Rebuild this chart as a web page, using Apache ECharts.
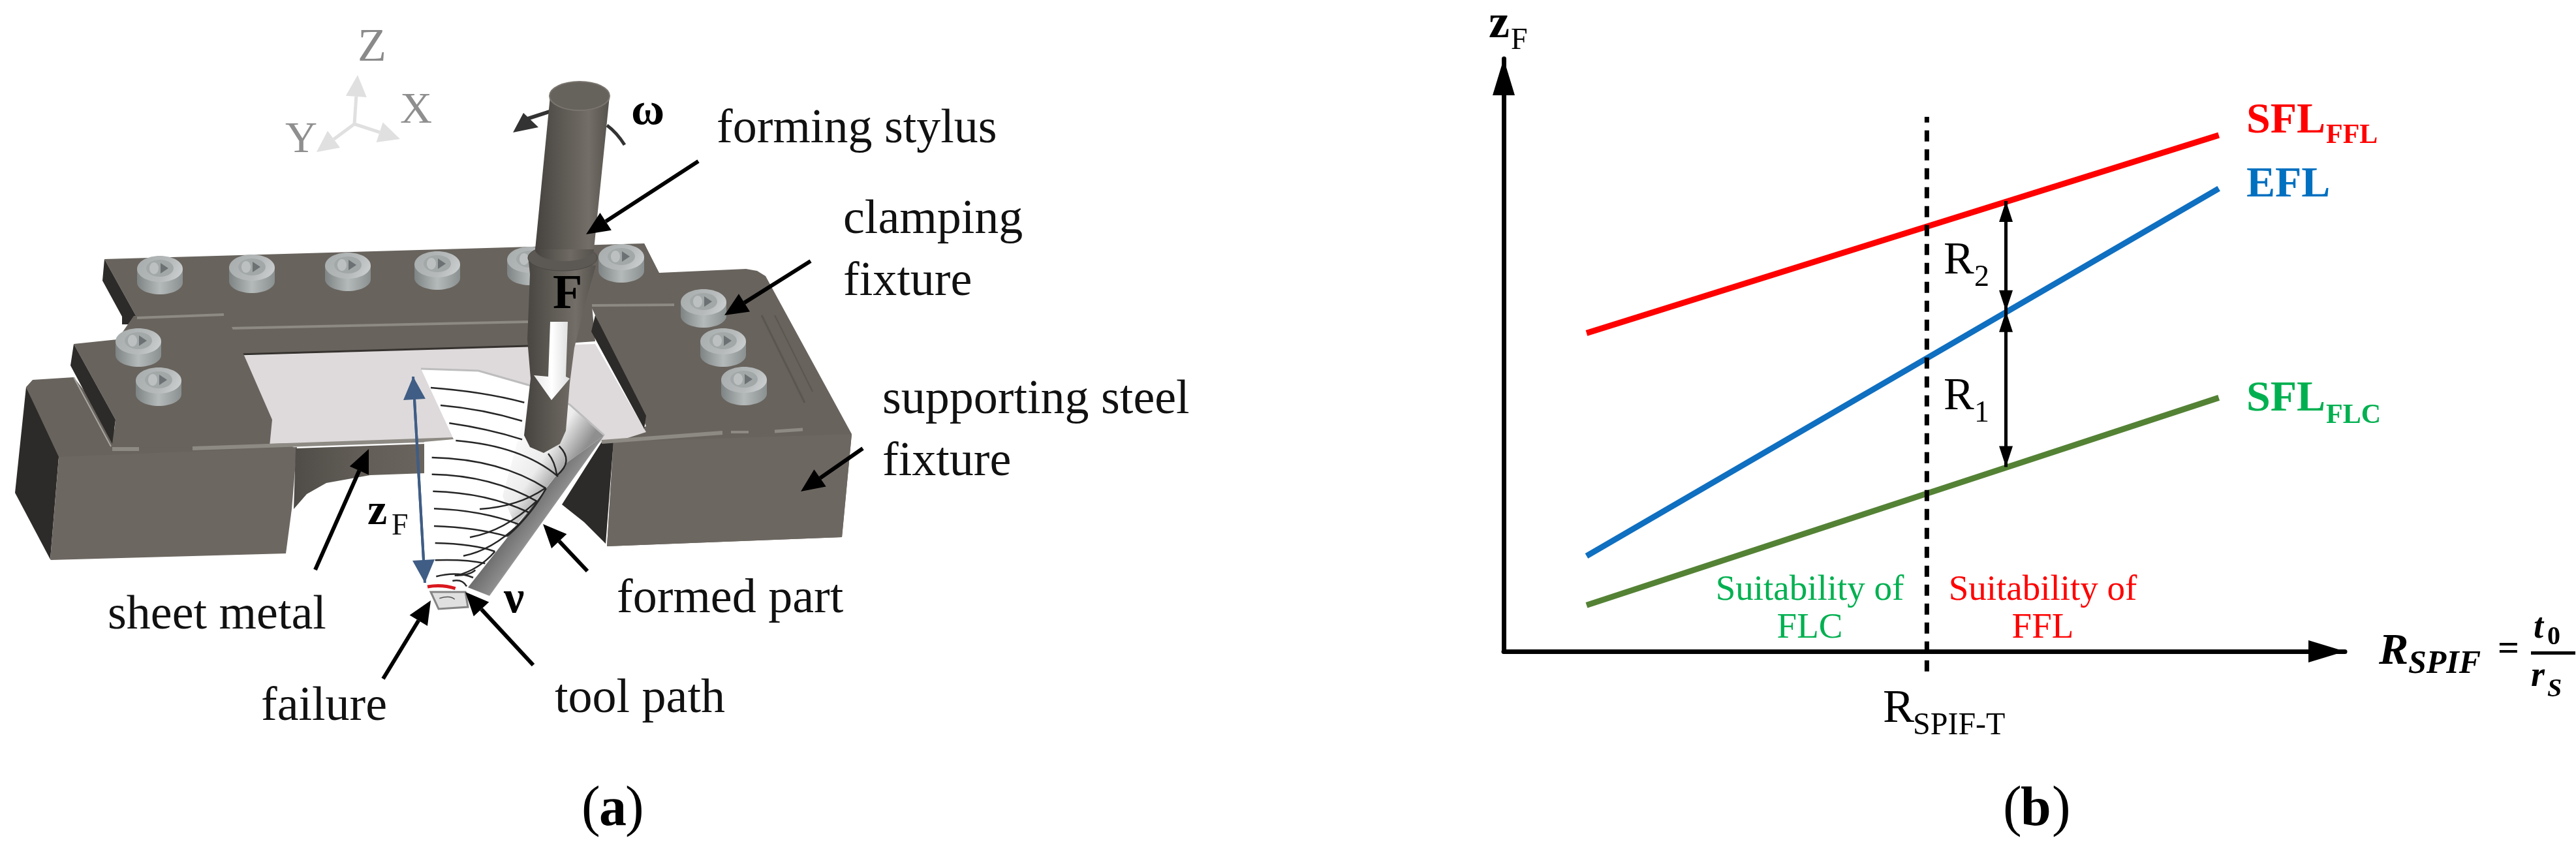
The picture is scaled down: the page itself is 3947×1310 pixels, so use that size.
<!DOCTYPE html>
<html><head><meta charset="utf-8">
<style>html,body{margin:0;padding:0;background:#fff}#c{width:3947px;height:1310px}</style>
<script src="https://cdn.jsdelivr.net/npm/echarts@6/dist/echarts.min.js"></script>
</head><body><div id="c"></div>
<script>
// ---- panel (b) values (axis units 0-100) ----
const lineX = [9.85, 85.0];
const sflFfl = [53.7, 87.1];
const efl = [16.1, 78.1];
const sflFlc = [7.8, 42.8];
const thresholdX = 50.3;
const thresholdY = [-3.4, 90.2];
const gapX = 59.7;
const gapY = [31.1, 57.4, 76.0];

const FONT = 'Liberation Serif';
const g = [];
const poly = (pts, fill, extra) => g.push({type:'polygon', silent:true, shape:{points:pts}, style:Object.assign({fill}, extra||{})});
const line = (pts, stroke, w, extra) => g.push({type:'polyline', silent:true, shape:{points:pts}, style:Object.assign({stroke, lineWidth:w, fill:'none'}, extra||{})});
const ell = (cx, cy, rx, ry, fill, extra) => g.push({type:'ellipse', silent:true, shape:{cx, cy, rx, ry}, style:Object.assign({fill}, extra||{})});
const curve = (x1,y1,cx,cy,x2,y2,stroke,w) => g.push({type:'bezierCurve', silent:true, shape:{x1,y1,cpx1:cx,cpy1:cy,x2,y2}, style:{stroke, lineWidth:w, fill:'none'}});
const tx = (text, x, base, size, opts) => { opts = opts||{}; g.push({type:'text', silent:true, style:{text, x, y:base-0.33*size, fill:opts.fill||'#111', fontFamily:opts.family||FONT, fontSize:size, fontWeight:opts.weight||'normal', fontStyle:opts.style||'normal', textAlign:opts.align||'left', textVerticalAlign:'middle'}}); };
const grad = (x,y,x2,y2,stops,global) => ({type:'linear',x,y,x2,y2,global:!!global,colorStops:stops.map(c=>({offset:c[0],color:c[1]}))});
const arrow = (a,b,c,d,color,w,hl,hw) => {
  const L = Math.hypot(c-a,d-b), ux=(c-a)/L, uy=(d-b)/L, bx=c-ux*hl, by=d-uy*hl;
  g.push({type:'polyline',silent:true,shape:{points:[[a,b],[bx,by]]},style:{stroke:color,lineWidth:w,fill:'none'}});
  g.push({type:'polygon',silent:true,shape:{points:[[c,d],[bx-uy*hw,by+ux*hw],[bx+uy*hw,by-ux*hw]]},style:{fill:color}});
};
const C3 = (x,y) => [400+x/3, 420+y/3];
const c3curve = (a,b,c,d,e,f,w,col) => { const p=C3(a,b), q=C3(c,d), r=C3(e,f); curve(p[0],p[1],q[0],q[1],r[0],r[1],col||'#262626',w); };

// ---- panel (a): illustration ----
const TAUPE='#6d6761', TOP='#68635d', DARK='#2d2b29', SEAM='#8d8983';
// base: left block
poly([[40,593],[50,582],[113,578],[177,660],[420,660],[455,690],[90,704]], TOP);
poly([[40,593],[23,755],[77,857],[90,700]], DARK);
poly([[90,700],[455,685],[447,780],[438,848],[78,858],[77,857]], TAUPE);
poly([[453,687],[652,680],[652,725],[567,728],[500,740],[470,757],[450,780]], grad(0,0,1,0,[[0,'#4f4c47'],[0.5,'#625d57'],[1,'#6a645e']]));
// base: right block
poly([[987,373],[1010,418],[1143,412],[1160,415],[1173,423],[1305,665],[1290,823],[930,837],[940,677],[990,653],[912,483],[905,468]], TOP);
poly([[940,677],[1305,665],[1290,823],[930,837]], TAUPE);
poly([[940,677],[928,833],[895,800],[861,773],[922,677]], DARK);
// sheet metal
poly([[367,545],[912,527],[990,662],[940,678],[922,678],[697,673],[413,680]], '#dedadb');
// back clamp
poly([[160,397],[987,373],[1033,467],[907,468],[912,523],[810,530],[365,543],[353,503],[343,482],[210,487]], TOP);
poly([[160,397],[157,430],[187,485],[187,497],[210,497],[210,487]], DARK);
line([[353,503],[810,493]], SEAM, 4);
line([[907,468],[1033,467]], SEAM, 4);
line([[365,543],[810,530]], '#35322f', 3);
// right clamp details
poly([[912,483],[990,637],[987,657],[906,508]], DARK);
line([[1167,483],[1233,617]], '#5a5650', 3);
line([[1187,483],[1245,600]], '#5a5650', 2);
// left clamp
poly([[113,527],[180,520],[205,484],[345,478],[417,643],[413,684],[172,686],[177,643]], TOP);
poly([[113,527],[108,560],[172,680],[177,643]], DARK);
line([[210,487],[343,482]], SEAM, 4);
line([[113,578],[170,684]], '#a9a6a1', 2);
// seams along the sheet line
line([[172,688],[213,688]], SEAM, 6);
line([[295,687],[697,673]], SEAM, 6);
line([[922,677],[1107,663]], SEAM, 6);
line([[1120,662],[1147,662]], SEAM, 4);
line([[1187,661],[1230,658]], SEAM, 5);

// formed part (cone)
poly([[645,565],[733,568],[810,590],[873,620],[926,667],[750,913],[717,903],[690,900],[650,893],[650,677],[695,673]], '#ffffff');
poly([[733,568],[810,590],[873,620],[926,667],[867,710],[790,806],[770,760],[800,650]],
  grad(785,650,880,712,[[0,'#ffffff'],[0.6,'#ececec'],[1,'#8f8f8f']],true));
line([[645,565],[733,568],[810,590],[873,620],[926,667]], '#bdbdbd', 3);
poly([[926,667],[750,913],[717,900],[867,710]], grad(800,780,850,816,[[0,'#6a6a6a'],[0.55,'#8c8c8c'],[0.85,'#c6c6c6'],[1,'#707070']],true));
poly([[660,907],[713,907],[717,930],[672,933]], '#e0e0e0', {stroke:'#858585', lineWidth:3});
// tool path
const arcs = [
  [780,522,1020,540,1210,590],[825,603,1020,620,1200,675],[865,685,1040,710,1200,760],
  [895,765,1200,790,1365,930],[785,843,1100,850,1310,985],[785,920,1060,925,1270,1045],
  [790,998,1040,1005,1230,1095],[795,1078,1010,1085,1185,1150],[795,1158,990,1165,1130,1205],
  [800,1236,980,1240,1075,1275],[800,1315,940,1310,1030,1330],
  [1005,1080,1180,1070,1305,985],[960,1210,1120,1180,1265,1045],[930,1295,1060,1270,1185,1150],
  [900,1385,1000,1360,1075,1275],[1320,825,1350,860,1360,925],[1370,790,1440,860,1360,925],
  [805,1390,900,1365,975,1395],[880,1410,925,1400,945,1435],[890,1385,960,1385,985,1360],
  [1185,1150,1250,1090,1310,985],[1130,1205,1200,1150,1270,1045]
];
arcs.forEach(a=>c3curve(a[0],a[1],a[2],a[3],a[4],a[5],2.5));
c3curve(820,1490,870,1475,890,1495,1.5,'#555');
c3curve(765,1437,830,1425,893,1445,5,'#d9181f');
// bolts
const bolts = [[245,412],[386,410],[533,407],[670,405],[812,398],[952,394],[212,523],[243,583],[1078,463],[1108,523],[1140,582]];
bolts.forEach(([x,y])=>{
  const body = grad(0,0,1,0,[[0,'#7e8484'],[0.5,'#b4b9b9'],[1,'#8a9090']]);
  ell(x,y+21,35,18,body);
  g.push({type:'rect',silent:true,shape:{x:x-35,y:y,width:70,height:21},style:{fill:body}});
  ell(x,y,35,20,grad(0,0,1,1,[[0,'#a7acac'],[0.6,'#b6baba'],[1,'#d0d3d3']]));
  ell(x,y-1,21,13,'#a2a7a7');
  poly([[x+1,y-9],[x+13,y-1],[x+1,y+7]],'#6c7173');
  ell(x-9,y-1,7,9,'#bcc0c0');
});
// z_F arrow
arrow(633,577,651,893,'#3f5d85',4,35,17);
arrow(651,893,633,577,'#3f5d85',4,35,17);
// omega arrow (behind the stylus)
curve(930,192,945,203,957,222,'#333',5);
line([[845,170],[808,182]], '#333', 6);
poly([[786,203],[802,173],[825,195]], '#333');
// stylus
const styl = grad(0,0,1,0,[[0,'#464340'],[0.4,'#5f5b55'],[0.72,'#736e67'],[1,'#55514c']]);
poly([[810,400],[913,407],[900,453],[880,533],[873,587],[867,660],[858,680],[833,694],[812,685],[803,667],[813,580],[808,520],[812,420]], styl);
ell(862,395,53,20,'#5c5853',{stroke:'#4a4743',lineWidth:1});
ell(865,382,45,18,grad(0,0,1,0,[[0,'#464340'],[0.6,'#6f6a63'],[1,'#55514c']]));
poly([[843,147],[934,147],[910,382],[820,382]], styl);
ell(888,147,46,22,'#66625c',{stroke:'#7a756e',lineWidth:2});
// F arrow
poly([[843,493],[870,493],[867,577],[873,580],[845,613],[818,575],[840,577]], grad(0,0,1,0,[[0,'#e8e8e8'],[0.5,'#ffffff'],[1,'#dddddd']]));
// coordinate triad
arrow(543,190,548,115,'#e0e0e0',5,33,16);
arrow(543,190,613,213,'#e0e0e0',5,33,16);
arrow(543,190,485,233,'#e0e0e0',5,33,16);
// leader arrows
arrow(1070,247,898,359,'#000',6,36,16);
arrow(1242,400,1110,483,'#000',6,36,16);
arrow(1322,687,1227,753,'#000',6,36,16);
arrow(900,875,832,803,'#000',6,36,16);
arrow(483,873,565,688,'#000',6,36,16);
arrow(587,1040,660,920,'#000',6,36,16);
arrow(817,1019,713,907,'#000',6,36,16);

const LS = 74;
tx('forming stylus',1098,223,LS);
tx('clamping',1292,362,LS);
tx('fixture',1292,457,LS);
tx('supporting steel',1352,638,LS);
tx('fixture',1352,733,LS);
tx('formed part',945,943,LS);
tx('sheet metal',165,968,LS);
tx('failure',400,1108,LS);
tx('tool path',850,1096,LS);
tx('ω',967,195,70,{weight:'bold',fill:'#000'});
tx('ν',772,943,70,{weight:'bold',fill:'#000'});
tx('F',847,477,74,{weight:'bold',fill:'#000'});
tx('z',563,808,68,{weight:'bold',fill:'#000'});
tx('F',600,822,46);
tx('Z',548,98,72,{fill:'#8a8a8a'});
tx('X',613,193,68,{fill:'#8f8f8f'});
tx('Y',437,238,68,{fill:'#8f8f8f'});
// panel captions
tx('(',891,1270,86,{fill:'#000'});tx('a',918,1270,84,{weight:'bold',fill:'#000'});tx(')',958,1270,86,{fill:'#000'});
tx('(',3069,1270,86,{fill:'#000'});tx('b',3096,1270,84,{weight:'bold',fill:'#000'});tx(')',3144,1270,86,{fill:'#000'});

// ---- panel (b) text ----
tx('z',2281,62,72,{weight:'bold',fill:'#000'});
tx('F',2315,78,46,{fill:'#000'});
tx('SFL',3442,208,66,{weight:'bold',fill:'#f00'});
tx('FFL',3564,222,42,{weight:'bold',fill:'#f00'});
tx('EFL',3442,306,66,{weight:'bold',fill:'#0070c0'});
tx('SFL',3442,634,66,{weight:'bold',fill:'#00b050'});
tx('FLC',3564,651,42,{weight:'bold',fill:'#00b050'});
tx('Suitability of',2773,923,55,{align:'center',fill:'#00b050'});
tx('FLC',2773,981,55,{align:'center',fill:'#00b050'});
tx('Suitability of',3130,923,55,{align:'center',fill:'#f00'});
tx('FFL',3130,981,55,{align:'center',fill:'#f00'});
tx('R',2978,424,70,{fill:'#000'});tx('2',3025,441,46,{fill:'#000'});
tx('R',2978,632,70,{fill:'#000'});tx('1',3025,649,46,{fill:'#000'});
tx('R',2885,1111,72,{fill:'#000'});tx('SPIF-T',2931,1128,48,{fill:'#000'});
tx('R',3645,1022,68,{weight:'bold',style:'italic',fill:'#000'});
tx('SPIF',3690,1035,50,{weight:'bold',style:'italic',fill:'#000'});
tx('=',3827,1015,58,{weight:'bold',fill:'#000'});
g.push({type:'rect',silent:true,shape:{x:3878,y:998,width:68,height:5},style:{fill:'#000'}});
tx('t',3882,981,54,{weight:'bold',style:'italic',fill:'#000'});tx('0',3903,990,40,{weight:'bold',fill:'#000'});
tx('r',3878,1055,54,{weight:'bold',style:'italic',fill:'#000'});tx('S',3903,1070,40,{weight:'bold',style:'italic',fill:'#000'});

const chart = echarts.init(document.getElementById('c'), null, {renderer:'canvas'});
const mk = (name, ys, color) => ({name, type:'line', data:lineX.map((x,i)=>[x,ys[i]]), symbol:'none', lineStyle:{color, width:9, cap:'butt'}, clip:false, z:4, animation:false});
chart.setOption({
  animation:false,
  backgroundColor:'#ffffff',
  grid:{left:2304, top:90, width:1289, height:908, show:false},
  xAxis:{type:'value', min:0, max:100, splitLine:{show:false}, axisTick:{show:false}, axisLabel:{show:false},
    axisLine:{onZero:false, lineStyle:{color:'#000', width:7}, symbol:['none','triangle'], symbolSize:[34,56], symbolOffset:[0,-28]}},
  yAxis:{type:'value', min:0, max:100, splitLine:{show:false}, axisTick:{show:false}, axisLabel:{show:false},
    axisLine:{onZero:false, lineStyle:{color:'#000', width:7}, symbol:['none','triangle'], symbolSize:[34,56], symbolOffset:[0,-28]}},
  series:[
    mk('SFL FFL', sflFfl, '#ff0000'),
    mk('EFL', efl, '#0f6fc0'),
    mk('SFL FLC', sflFlc, '#548235'),
    {name:'RSPIF-T', type:'line', data:thresholdY.map(y=>[thresholdX,y]), symbol:'none', clip:false, z:5, lineStyle:{color:'#000', width:7, type:[17,12]}},
    {name:'R', type:'line', data:[], symbol:'none', z:6,
      markLine:{silent:true, animation:false, symbol:['triangle','triangle'], symbolSize:[21,32], symbolOffset:[[0,16],[0,16]], label:{show:false},
        lineStyle:{color:'#000', width:5, type:'solid'},
        data:[[{coord:[gapX,gapY[0]]},{coord:[gapX,gapY[1]]}],[{coord:[gapX,gapY[1]]},{coord:[gapX,gapY[2]]}]]}}
  ],
  graphic:g
});
</script></body></html>
